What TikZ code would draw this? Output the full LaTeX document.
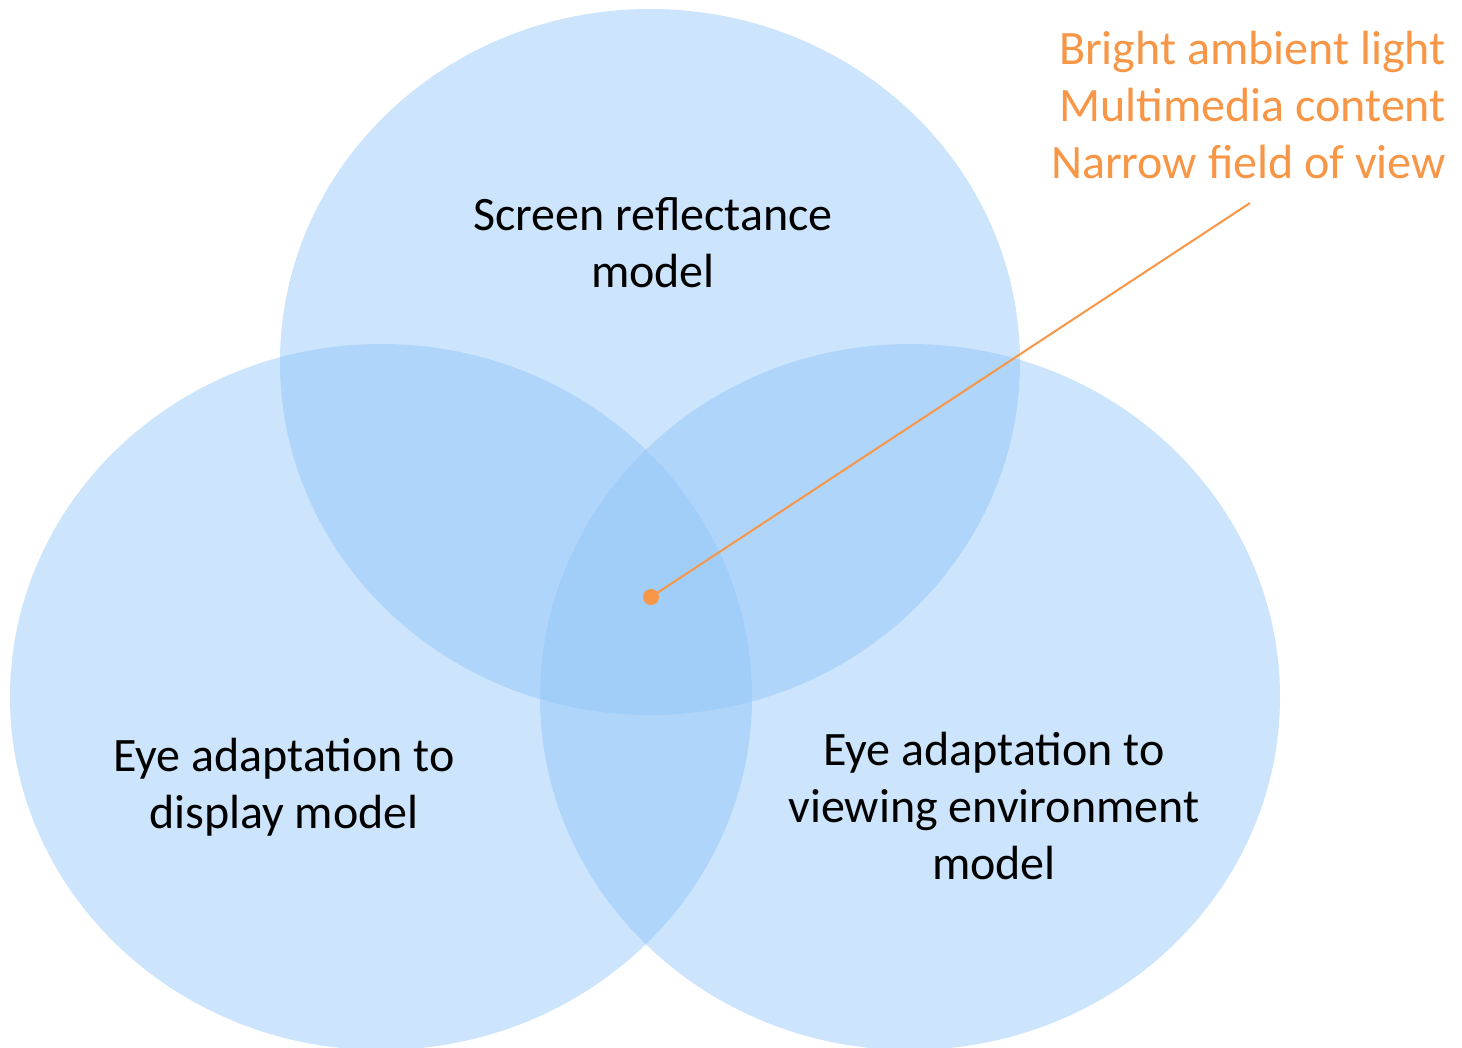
\documentclass[tikz,border=0pt]{standalone}
\usepackage{fontspec}
\setmainfont{Carlito}
\definecolor{vblue}{RGB}{142,195,248}
\definecolor{vorange}{RGB}{247,150,70}
\begin{document}
\begin{tikzpicture}[x=1pt,y=-1pt,
  setfill/.style={fill=vblue,fill opacity=0.45,draw=none},
  lbl/.style={align=center,font=\fontsize{48}{57}\selectfont,text=black,inner sep=0pt},
  olbl/.style={align=right,font=\fontsize{48}{57}\selectfont,text=vorange,inner sep=0pt}]
\useasboundingbox (0,0) rectangle (1462,1048);
\fill[setfill] (650,362) ellipse [x radius=370,y radius=353];
\fill[setfill] (381,697) ellipse [x radius=371,y radius=353];
\fill[setfill] (910,697) ellipse [x radius=370,y radius=353];
\node[lbl] (top) at (653,243) {Screen reflectance\\model};
\node[lbl] (left) at (284,787) {Eye adaptation to\\display model};
\node[lbl] (right) at (994,806) {Eye adaptation to\\viewing environment\\model};
\node[olbl,anchor=east] (notes) at (1446,105) {Bright ambient light\\Multimedia content\\Narrow field of view};
\coordinate (tail) at (1250,203);
\node[circle,fill=vorange,inner sep=0pt,minimum size=16pt] (dot) at (651,597) {};
\draw[vorange,line width=2pt] (dot.center) -- (tail);
\end{tikzpicture}
\end{document}
